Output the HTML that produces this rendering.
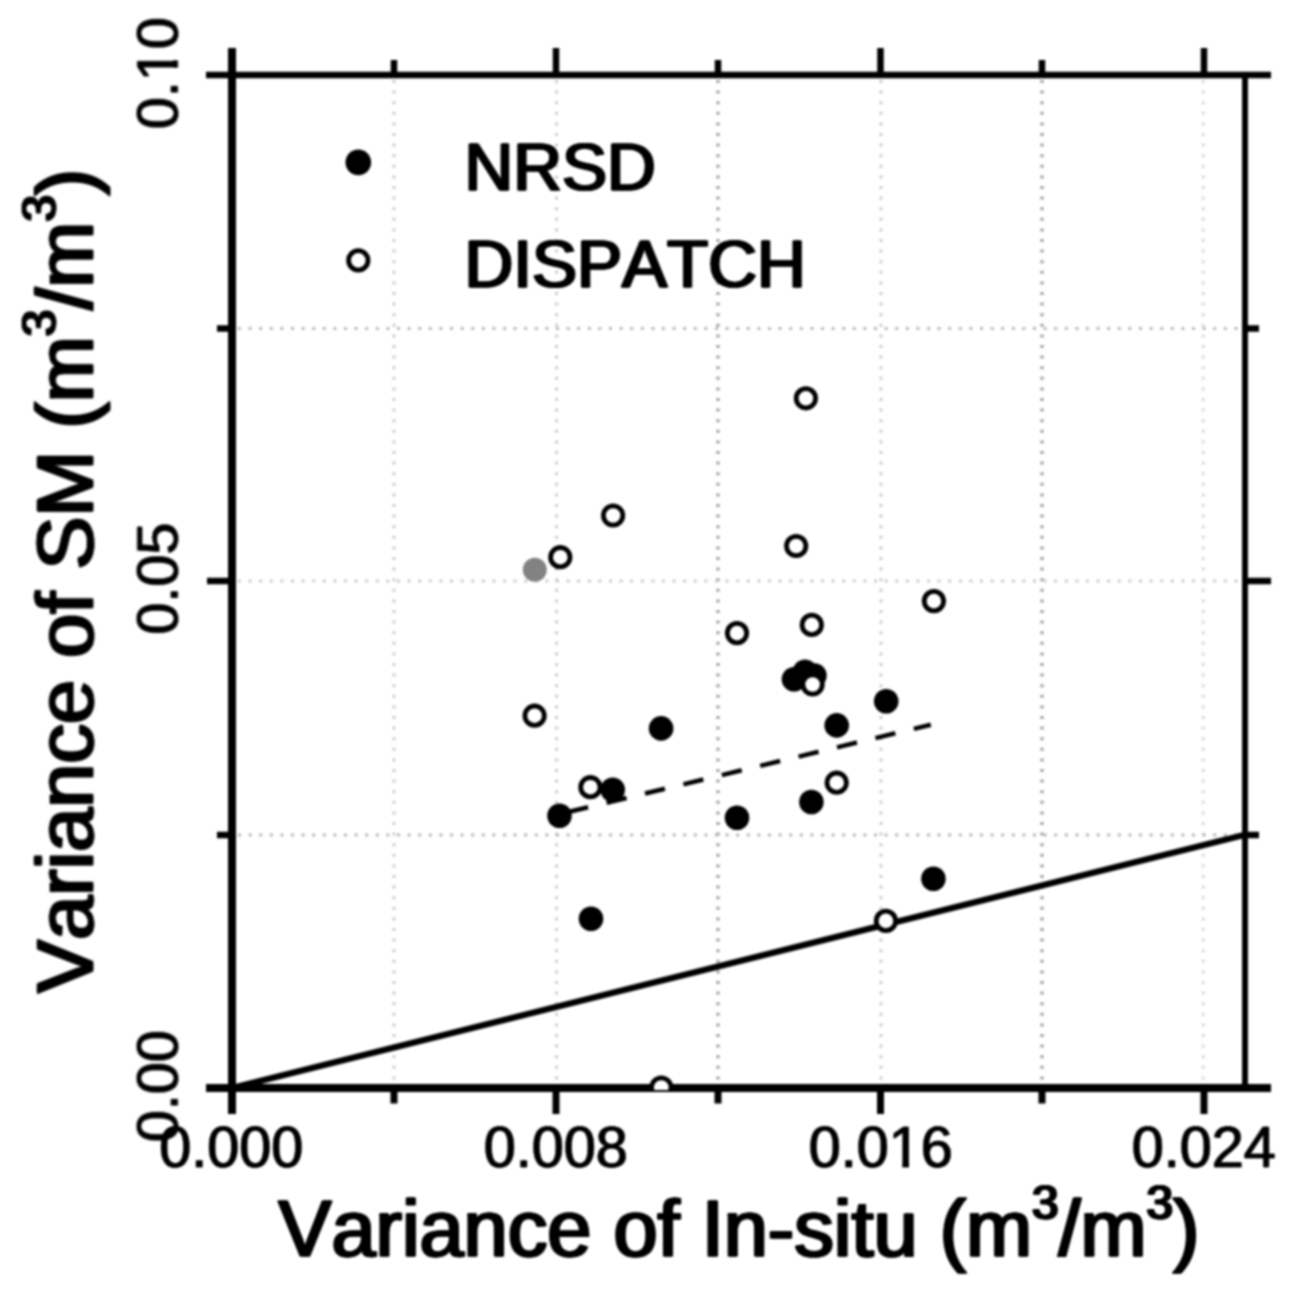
<!DOCTYPE html>
<html lang="en"><head><meta charset="utf-8"><title>Variance scatter</title>
<style>html,body{margin:0;padding:0;background:#fff}body{width:1290px;height:1296px;overflow:hidden}svg{display:block}#fig{width:1290px;height:1296px;filter:blur(.8px)}text{font-family:"Liberation Sans",Arial,Helvetica,sans-serif;fill:#000;stroke:#000;stroke-linejoin:round;font-kerning:none}.tk text{stroke-width:.45px;filter:url(#hK)}.lg text{stroke-width:1px;filter:url(#hL)}text.tt{stroke-width:1.2px;filter:url(#hT)}.g line{stroke:#cecece;stroke-width:3;stroke-dasharray:3 7.6}.g line.m{stroke:#bababa}.g line.l{stroke:#dadada}.g line.d{stroke:#a6a6a6;stroke-width:3.4}.ax line{stroke:#000;stroke-linecap:butt}.f circle{fill:#000}.o circle{fill:#fff;stroke:#000;stroke-width:4.8}</style></head><body>
<div id="fig"><svg width="1290" height="1296" viewBox="0 0 1290 1296">
<defs>
<filter id="hT" x="-5%" y="-20%" width="110%" height="140%"><feOffset in="SourceGraphic" dx="-1" result="o0"/><feOffset in="SourceGraphic" dx="1" result="o1"/><feMerge><feMergeNode in="o0"/><feMergeNode in="o1"/><feMergeNode in="SourceGraphic"/></feMerge></filter>
<filter id="hL" x="-5%" y="-20%" width="110%" height="140%"><feOffset in="SourceGraphic" dx="-1" result="o0"/><feOffset in="SourceGraphic" dx="1" result="o1"/><feMerge><feMergeNode in="o0"/><feMergeNode in="o1"/><feMergeNode in="SourceGraphic"/></feMerge></filter>
<filter id="hK" x="-5%" y="-20%" width="110%" height="140%"><feOffset in="SourceGraphic" dx="1" result="o0"/><feMerge><feMergeNode in="o0"/><feMergeNode in="SourceGraphic"/></feMerge></filter>
<clipPath id="cb"><rect x="640" y="1060" width="44" height="30"/></clipPath>
</defs>
<rect width="1290" height="1296" fill="#fff"/>
<g class="g">
<line class="" x1="394" y1="80" x2="394" y2="1084"/>
<line class="" x1="556.5" y1="80" x2="556.5" y2="1084"/>
<line class="d" x1="718" y1="80" x2="718" y2="1084"/>
<line class="" x1="881" y1="80" x2="881" y2="1084"/>
<line class="d" x1="1042" y1="80" x2="1042" y2="1084"/>
<line class="l" x1="1203.2" y1="80" x2="1203.2" y2="1084"/>
<line class="m" x1="238" y1="328.5" x2="1242" y2="328.5"/>
<line class="" x1="238" y1="581" x2="1242" y2="581"/>
<line class="m" x1="238" y1="835" x2="1242" y2="835"/>
</g>
<line x1="232" y1="1088" x2="1245" y2="834.7" stroke="#000" stroke-width="6.2"/>
<line x1="568.2" y1="812.1" x2="930.8" y2="724.8" stroke="#000" stroke-width="4.6" stroke-dasharray="20.5 19"/>
<g class="ax">
<line x1="206" y1="75" x2="1271" y2="75" stroke-width="6.5"/>
<line x1="206" y1="1088" x2="1271" y2="1088" stroke-width="8"/>
<line x1="232" y1="48" x2="232" y2="1114" stroke-width="8"/>
<line x1="1245" y1="75" x2="1245" y2="1088" stroke-width="5.9"/>
<line x1="394" y1="60" x2="394" y2="75" stroke-width="6.5"/>
<line x1="394" y1="1088" x2="394" y2="1103.5" stroke-width="7"/>
<line x1="556" y1="48" x2="556" y2="75" stroke-width="6.5"/>
<line x1="556" y1="1088" x2="556" y2="1114" stroke-width="7"/>
<line x1="718" y1="60" x2="718" y2="75" stroke-width="6.5"/>
<line x1="718" y1="1088" x2="718" y2="1103.5" stroke-width="7"/>
<line x1="880.5" y1="48" x2="880.5" y2="75" stroke-width="6.5"/>
<line x1="880.5" y1="1088" x2="880.5" y2="1114" stroke-width="7"/>
<line x1="1042" y1="60" x2="1042" y2="75" stroke-width="6.5"/>
<line x1="1042" y1="1088" x2="1042" y2="1103.5" stroke-width="7"/>
<line x1="1204" y1="48" x2="1204" y2="75" stroke-width="6.5"/>
<line x1="1204" y1="1088" x2="1204" y2="1114" stroke-width="7"/>
<line x1="217" y1="328.5" x2="232" y2="328.5" stroke-width="6.5"/>
<line x1="1245" y1="328.5" x2="1259" y2="328.5" stroke-width="6.5"/>
<line x1="207" y1="581" x2="232" y2="581" stroke-width="6.5"/>
<line x1="1245" y1="581" x2="1271" y2="581" stroke-width="6.5"/>
<line x1="217" y1="835" x2="232" y2="835" stroke-width="6.5"/>
<line x1="1245" y1="835" x2="1259" y2="835" stroke-width="6.5"/>
</g>
<g class="f">
<circle cx="559.5" cy="815.8" r="12.3"/>
<circle cx="591" cy="918.8" r="12.3"/>
<circle cx="612.7" cy="789.8" r="12.3"/>
<circle cx="661.1" cy="728.4" r="12.3"/>
<circle cx="737" cy="817.7" r="12.3"/>
<circle cx="794" cy="679.3" r="12.3"/>
<circle cx="805" cy="671.8" r="12.3"/>
<circle cx="814.4" cy="675.5" r="12.3"/>
<circle cx="811.4" cy="802" r="12.3"/>
<circle cx="836.7" cy="725.4" r="12.3"/>
<circle cx="886.2" cy="701.2" r="12.3"/>
<circle cx="933.4" cy="878.8" r="12.3"/>
<circle cx="358.3" cy="162.4" r="12.8"/>
<circle cx="534.8" cy="569.7" r="12" style="fill:#828282"/>
</g>
<g class="o">
<circle cx="805.9" cy="398.3" r="9.7"/>
<circle cx="613.1" cy="515.5" r="9.7"/>
<circle cx="560.3" cy="557.2" r="9.7"/>
<circle cx="796.2" cy="546" r="9.7"/>
<circle cx="933.9" cy="601.1" r="9.7"/>
<circle cx="811.8" cy="624.9" r="9.7"/>
<circle cx="737" cy="633.1" r="9.7"/>
<circle cx="534.6" cy="715.7" r="9.7"/>
<circle cx="590.4" cy="787.2" r="9.7"/>
<circle cx="836.7" cy="782.7" r="9.7"/>
<circle cx="885.9" cy="920.9" r="9.7"/>
<circle cx="812.6" cy="684.5" r="9.7"/>
<circle cx="358.3" cy="260.4" r="9.7"/>
<circle cx="661.3" cy="1087.5" r="9.7" clip-path="url(#cb)"/>
</g>
<g class="tk" font-size="57.5" text-anchor="middle">
<text x="230.8" y="1167">0.000</text>
<text x="555.3" y="1167">0.008</text>
<text x="880.3" y="1167">0.016</text>
<text x="1203.2" y="1167">0.024</text>
<text transform="translate(177.5,1086.7) rotate(-90)">0.00</text>
<text transform="translate(177.5,579.1) rotate(-90)">0.05</text>
<text transform="translate(177.5,73.7) rotate(-90)">0.10</text>
</g>
<g fill="#fff"><rect x="890.5" y="1161.3" width="11.8" height="7.5"/><rect x="909" y="1161.3" width="11" height="7.5"/><rect x="171.4" y="49.5" width="8" height="10.8"/><rect x="171.4" y="67.7" width="8" height="11.5"/></g>
<g class="lg" font-size="67.5"><text x="464.5" y="190">NRSD</text><text x="464.5" y="287">DISPATCH</text></g>
<text id="xt" class="tt" font-size="79.3" x="278.5" y="1255.5">Variance of In-situ (m<tspan font-size="47.5" dy="-37">3</tspan><tspan dy="37">/m</tspan><tspan font-size="47.5" dy="-37">3</tspan><tspan dy="37">)</tspan></text>
<text id="yt" class="tt" font-size="79.3" transform="translate(92.6,992.8) rotate(-90)">Variance of SM (m<tspan font-size="47.5" dy="-37">3</tspan><tspan dy="37">/m</tspan><tspan font-size="47.5" dy="-37">3</tspan><tspan dy="37">)</tspan></text>
</svg></div></body></html>
